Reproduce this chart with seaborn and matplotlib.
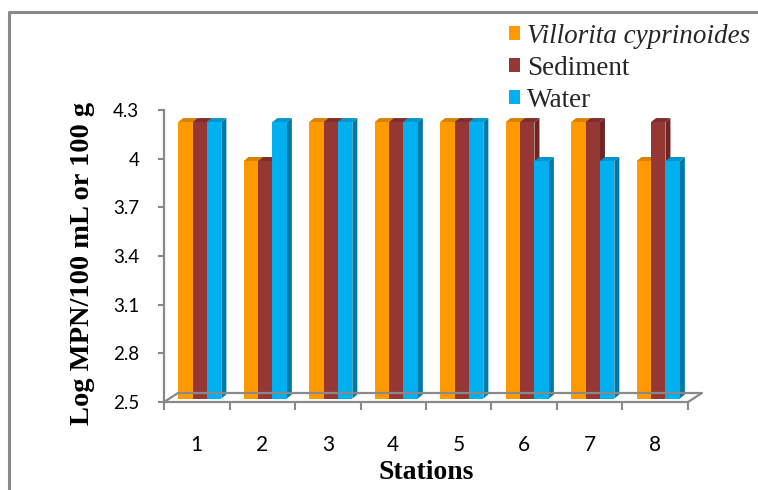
import numpy as np
import pandas as pd
import seaborn as sns
import matplotlib
matplotlib.use("Agg")
import matplotlib.pyplot as plt
from matplotlib.patches import Polygon, Patch
from matplotlib.lines import Line2D
from matplotlib.transforms import ScaledTranslation, IdentityTransform

# Log MPN per station for each sample type
stations = ["1", "2", "3", "4", "5", "6", "7", "8"]
series_names = ["Villorita cyprinoides", "Sediment", "Water"]
villorita = [4.204, 3.964, 4.204, 4.204, 4.204, 4.204, 4.204, 3.964]
sediment = [4.204, 3.964, 4.204, 4.204, 4.204, 4.204, 4.204, 4.204]
water = [4.204, 4.204, 4.204, 4.204, 4.204, 3.964, 3.964, 3.964]
y_ticks = [2.5, 2.8, 3.1, 3.4, 3.7, 4.0, 4.3]
y_tick_labels = ["2.5", "2.8", "3.1", "3.4", "3.7", "4", "4.3"]

front_colors = ["#FF9900", "#953735", "#00B0F0"]
side_colors = ["#B86E00", "#6B2625", "#0079A6"]
top_colors = ["#D98200", "#7E2D2C", "#0096CC"]
gray = "#898989"

sns.set_style("white")
plt.rcParams["font.family"] = ["Lato", "DejaVu Sans"]
serif = "Liberation Serif"

W, H = 758, 490
fig = plt.figure(figsize=(W / 100, H / 100), dpi=100)
ax_l, ax_r, ax_t, ax_b = 164, 688, 110, 402
ax = fig.add_axes([ax_l / W, 1 - ax_b / H, (ax_r - ax_l) / W, (ax_b - ax_t) / H])

df = pd.DataFrame({
    "Station": stations * len(series_names),
    "Sample": np.repeat(series_names, len(stations)),
    "Value": villorita + sediment + water,
})
sns.barplot(data=df, x="Station", y="Value", hue="Sample", hue_order=series_names,
            palette=front_colors, width=0.66, gap=0, saturation=1, errorbar=None,
            legend=False, linewidth=0, ax=ax)

base = 2.5
ax.set_xlim(-0.5, 7.5)
ax.set_ylim(base, 4.3)

# pseudo-3D columns: front face raised to mid-depth, plus side and top faces
dx, dy = 5, 4
shift = ScaledTranslation(3 / 100, 3.5 / 100, fig.dpi_scale_trans)
tr = ax.transData + shift
bars = list(ax.patches)
n = len(stations)
for i, p in enumerate(bars):
    s = i // n
    top = p.get_y() + p.get_height()
    p.set_y(base)
    p.set_height(top - base)
    p.set_transform(tr)
    p.set_zorder(3 + 2 * s)
    p.set_clip_on(False)
    x0 = p.get_x()
    x1 = x0 + p.get_width()
    (px0, py0), (px1, py1) = tr.transform([(x0, base), (x1, top)])
    side = Polygon([(px1, py0), (px1 + dx, py0 + dy), (px1 + dx, py1 + dy), (px1, py1)],
                   closed=True, transform=IdentityTransform(), facecolor=side_colors[s],
                   linewidth=0, zorder=2 + 2 * s, clip_on=False)
    cap = Polygon([(px0, py1), (px0 + dx, py1 + dy), (px1 + dx, py1 + dy), (px1, py1)],
                  closed=True, transform=IdentityTransform(), facecolor=top_colors[s],
                  linewidth=0, zorder=2 + 2 * s, clip_on=False)
    ax.add_patch(side)
    ax.add_patch(cap)

# floor outline behind the columns
(fx0, fy), (fx1, _) = ax.transAxes.transform([(0, 0), (1, 0)])
fig.add_artist(Line2D([fx0, fx0 + 14, fx1 + 14, fx1], [fy, fy + 9, fy + 9, fy],
                      transform=IdentityTransform(), color=gray, lw=1.6, zorder=1))

# axes styling
for side_name in ["top", "right"]:
    ax.spines[side_name].set_visible(False)
for side_name in ["left", "bottom"]:
    ax.spines[side_name].set_color(gray)
    ax.spines[side_name].set_linewidth(1.6)

ax.set_yticks(y_ticks, y_tick_labels)
ax.set_xticks(range(n), stations)
ax.set_xticks(np.arange(-0.5, n, 1), minor=True)
ax.tick_params(axis="x", which="major", bottom=True, length=0, pad=24,
               labelsize=15, labelcolor="black")
ax.tick_params(axis="x", which="minor", bottom=True, length=6, width=1.5,
               color=gray, direction="out")
ax.tick_params(axis="y", which="major", left=True, length=4.3, width=1.5, color=gray,
               direction="out", pad=13.5, labelsize=13.5, labelcolor="black")

ax.set_ylabel("Log MPN/100 mL or 100 g", fontfamily=serif, fontweight="bold",
              fontsize=20.5, color="black", va="center")
ax.yaxis.set_label_coords(-0.1555, 0.476)
ax.set_xlabel("Stations", fontfamily=serif, fontweight="bold", fontsize=20,
              color="black", va="center")
ax.xaxis.set_label_coords(0.5, -0.243)

handles = [Patch(facecolor=c, edgecolor="none") for c in front_colors]
leg = fig.legend(handles, series_names, loc="upper left",
                 bbox_to_anchor=(509 / W, 1 - 24 / H), frameon=False,
                 prop={"family": serif, "size": 19.5}, handlelength=0.42,
                 handleheight=0.42, handletextpad=0.25, labelspacing=0.26,
                 borderpad=0, borderaxespad=0)
leg.get_texts()[0].set_fontstyle("italic")

# outer chart frame
fig.add_artist(Line2D([9 / W, 9 / W, 1.0], [0.0, 1 - 12 / H, 1 - 12 / H],
                      transform=fig.transFigure, color=gray, lw=2.2))

fig.savefig("out.png", dpi=100, facecolor="white")
